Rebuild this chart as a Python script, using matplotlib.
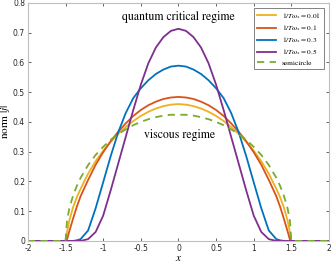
import matplotlib
matplotlib.use('Agg')
import matplotlib.pyplot as plt
import numpy as np

# half profiles for x >= 0 (curves are symmetric in x)
x_half = [0.0, 0.1, 0.2, 0.3, 0.4, 0.5, 0.6, 0.7, 0.8, 0.9, 1.0,
          1.1, 1.2, 1.3, 1.35, 1.4, 1.45, 1.48, 1.5, 2.0]
j_001 = [0.460, 0.458, 0.453, 0.445, 0.434, 0.420, 0.403, 0.383, 0.360, 0.333, 0.303,
         0.268, 0.226, 0.175, 0.147, 0.113, 0.068, 0.030, 0.0, 0.0]
j_01 = [0.484, 0.482, 0.477, 0.468, 0.456, 0.440, 0.420, 0.395, 0.367, 0.335, 0.298,
        0.256, 0.205, 0.150, 0.115, 0.075, 0.032, 0.005, 0.0, 0.0]
j_03 = [0.589, 0.586, 0.576, 0.561, 0.540, 0.513, 0.480, 0.430, 0.365, 0.285, 0.197,
        0.110, 0.035, 0.006, 0.002, 0.0, 0.0, 0.0, 0.0, 0.0]
j_05 = [0.713, 0.706, 0.685, 0.650, 0.597, 0.525, 0.440, 0.350, 0.260, 0.170, 0.085,
        0.030, 0.006, 0.0, 0.0, 0.0, 0.0, 0.0, 0.0, 0.0]

x_semi = [0.0, 0.1, 0.2, 0.3, 0.4, 0.5, 0.6, 0.7, 0.8, 0.9, 1.0,
          1.1, 1.2, 1.3, 1.35, 1.4, 1.45, 1.48, 1.5, 2.0]
j_semi = [0.424, 0.424, 0.421, 0.416, 0.409, 0.400, 0.389, 0.375, 0.359, 0.340, 0.316,
          0.289, 0.255, 0.212, 0.185, 0.152, 0.109, 0.069, 0.0, 0.0]

labels = [r'$1/T\omega_x = 0.01$', r'$1/T\omega_x = 0.1$',
          r'$1/T\omega_x = 0.3$', r'$1/T\omega_x = 0.5$']
colors = ['#EDB120', '#D95319', '#0072BD', '#7E2F8E']


def mirror(xs, ys):
    xs = np.array(xs)
    ys = np.array(ys)
    return np.concatenate([-xs[::-1], xs[1:]]), np.concatenate([ys[::-1], ys[1:]])


plt.rcParams['mathtext.fontset'] = 'stix'
plt.rcParams['font.family'] = 'DejaVu Sans'

fig = plt.figure(figsize=(3.32, 2.63), dpi=100)
ax = fig.add_axes([0.084, 0.084, 0.907, 0.905])

for ys, lab, c in zip([j_001, j_01, j_03, j_05], labels, colors):
    xx, yy = mirror(x_half, ys)
    ax.plot(xx, yy, color=c, lw=1.3, label=lab)
xx, yy = mirror(x_semi, j_semi)
ax.plot(xx, yy, color='#77AC30', lw=1.3, ls=(0, (4, 3)), label='semicircle')

ax.set_xlim(-2, 2)
ax.set_ylim(0, 0.8)
ax.set_xticks(np.arange(-2, 2.01, 0.5))
ax.set_xticklabels(['-2', '-1.5', '-1', '-0.5', '0', '0.5', '1', '1.5', '2'])
ax.set_yticks(np.arange(0, 0.81, 0.1))
ax.set_yticklabels(['0', '0.1', '0.2', '0.3', '0.4', '0.5', '0.6', '0.7', '0.8'])
ax.tick_params(direction='in', length=2.5, width=0.5, labelsize=5.5, colors='#262626',
               top=True, right=True, pad=2)
for s in ax.spines.values():
    s.set_color('#bfbfbf')
    s.set_linewidth(0.8)

ax.set_xlabel(r'$x$', fontsize=8, labelpad=0)
ax.set_ylabel(r'norm $|j|$', fontsize=8, labelpad=1, family='STIXGeneral')

ax.text(0.0, 0.752, 'quantum critical regime', ha='center', va='center',
        fontsize=8.5, family='STIXGeneral')
ax.text(0.02, 0.355, 'viscous regime', ha='center', va='center',
        fontsize=8.5, family='STIXGeneral')

leg = ax.legend(loc='upper right', frameon=True, fancybox=False,
                handlelength=2.5, borderpad=0.45, labelspacing=0.3,
                bbox_to_anchor=(0.995, 0.995), prop={'family': 'STIXGeneral', 'size': 5.3})
leg.get_frame().set_edgecolor('#262626')
leg.get_frame().set_linewidth(0.5)

fig.savefig('out.png', dpi=100)
